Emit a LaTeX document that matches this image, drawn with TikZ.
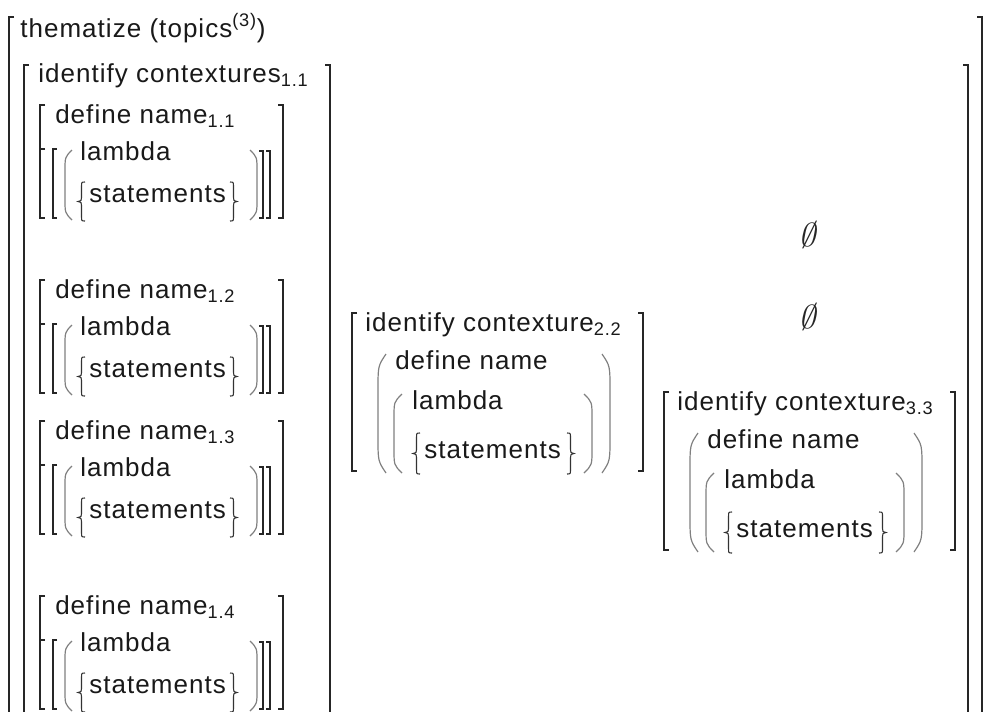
\documentclass[tikz,border=0pt]{standalone}
\usepackage{fontspec}
\setmainfont[LetterSpace=4]{Liberation Sans}
\usetikzlibrary{calc}
\tikzset{
  word/.style={inner sep=0pt, anchor=base west, text=black!90,
    font=\fontsize{19.5}{22}\selectfont},
  brk/.style={draw=black!85, line width=1.4pt},
  prn/.style={draw=black!50, line width=0.9pt},
  brc/.style={draw=black!80, line width=0.8pt},
  nul/.style={inner sep=0pt, text=black!85, xslant=0.2,
    font=\fontsize{25}{30}\selectfont},
}
% round bracket: tip x, end x, top y, bottom y
\newcommand{\Paren}[4]{%
  \pgfmathsetmacro\pa{#3+0.10*(#4-#3)}
  \pgfmathsetmacro\pb{#3+0.30*(#4-#3)}
  \pgfmathsetmacro\pc{#4-0.30*(#4-#3)}
  \pgfmathsetmacro\pd{#4-0.10*(#4-#3)}
  \draw[prn] (#2,#3) .. controls (#1,\pa) .. (#1,\pb) -- (#1,\pc)
    .. controls (#1,\pd) .. (#2,#4);
}
% curly braces: tip x, top y, bottom y
\newcommand{\LBrace}[3]{%
  \pgfmathsetmacro\bmid{(#2+#3)/2}
  \draw[brc] (#1+7,#2) .. controls (#1+3.5,#2) .. (#1+3.5,#2+5) -- (#1+3.5,\bmid-4)
    .. controls (#1+3.5,\bmid-1) .. (#1,\bmid) .. controls (#1+3.5,\bmid+1) .. (#1+3.5,\bmid+4)
    -- (#1+3.5,#3-5) .. controls (#1+3.5,#3) .. (#1+7,#3);
}
\newcommand{\RBrace}[3]{%
  \pgfmathsetmacro\bmid{(#2+#3)/2}
  \draw[brc] (#1-7,#2) .. controls (#1-3.5,#2) .. (#1-3.5,#2+5) -- (#1-3.5,\bmid-4)
    .. controls (#1-3.5,\bmid-1) .. (#1,\bmid) .. controls (#1-3.5,\bmid+1) .. (#1-3.5,\bmid+4)
    -- (#1-3.5,#3-5) .. controls (#1-3.5,#3) .. (#1-7,#3);
}
% one define block of the first column: top y, id, index
\newcommand{\DefBlock}[3]{%
  \begin{scope}[shift={(0,#1)}]
    \draw[brk] (45,0) -| (40,113) -- ++(5,0);
    \draw[brk] (278,0) -| (283,113) -- ++(-5,0);
    \draw[brk] (45,44) -- (40,44);
    \draw[brk] (57,44) -| (53,113) -- ++(4,0);
    \draw[brk] (259,46) -| (263,113) -- ++(-4,0);
    \draw[brk] (266,46) -| (270,113) -- ++(-4,0);
    \Paren{65}{72}{45}{115}
    \Paren{257}{250}{45}{115}
    \LBrace{78}{77}{116}
    \RBrace{237}{77}{116}
    \node[word] (#2name) at (55,18) {define name\textsubscript{#3}};
    \node[word] (#2lam) at (80,55) {lambda};
    \node[word] (#2stm) at (89,97) {statements};
  \end{scope}
}
% one identify block: left x, top y, id, index
\newcommand{\CtxBlock}[4]{%
  \begin{scope}[shift={(#1,#2)}]
    \draw[brk] (5,0) -| (0,158) -- ++(5,0);
    \draw[brk] (286,0) -| (291,158) -- ++(-5,0);
    \Paren{26}{34}{41}{160}
    \Paren{258}{250}{41}{160}
    \Paren{42}{50}{81}{160}
    \Paren{240}{232}{81}{160}
    \LBrace{61}{120}{161}
    \RBrace{222}{120}{161}
    \node[word] (#3ctx) at (13,18) {identify contexture\textsubscript{#4}};
    \node[word] (#3name) at (43,56) {define name};
    \node[word] (#3lam) at (60,96) {lambda};
    \node[word] (#3stm) at (72,145) {statements};
  \end{scope}
}

\begin{document}
\begin{tikzpicture}[x=0.75pt, y=-0.75pt]
  \useasboundingbox (0,0) rectangle (987,711);
  \fill[white] (0,0) rectangle (987,711);
  \clip (0,0) rectangle (987,711);

  % outer frame
  \draw[brk] (14,17) -| (9,740);
  \draw[brk] (977,17) -| (982,740);
  \node[word] (theme) at (20,37) {thematize (topics\textsuperscript{(3)})};

  % row frame and first column
  \draw[brk] (29,65) -| (24,740);
  \draw[brk] (963,65) -| (968,740);
  \draw[brk] (325,65) -| (330,740);
  \node[word] (ctxA) at (38,82) {identify contextures\textsubscript{1.1}};
  \DefBlock{105}{a}{1.1}
  \DefBlock{280}{b}{1.2}
  \DefBlock{421}{c}{1.3}
  \DefBlock{596}{d}{1.4}

  % second and third column
  \CtxBlock{352}{313}{b}{2.2}
  \node[nul] (nulA) at (810,235) {$\emptyset$};
  \node[nul] (nulB) at (810,317) {$\emptyset$};
  \CtxBlock{664}{392}{c}{3.3}
\end{tikzpicture}
\end{document}
